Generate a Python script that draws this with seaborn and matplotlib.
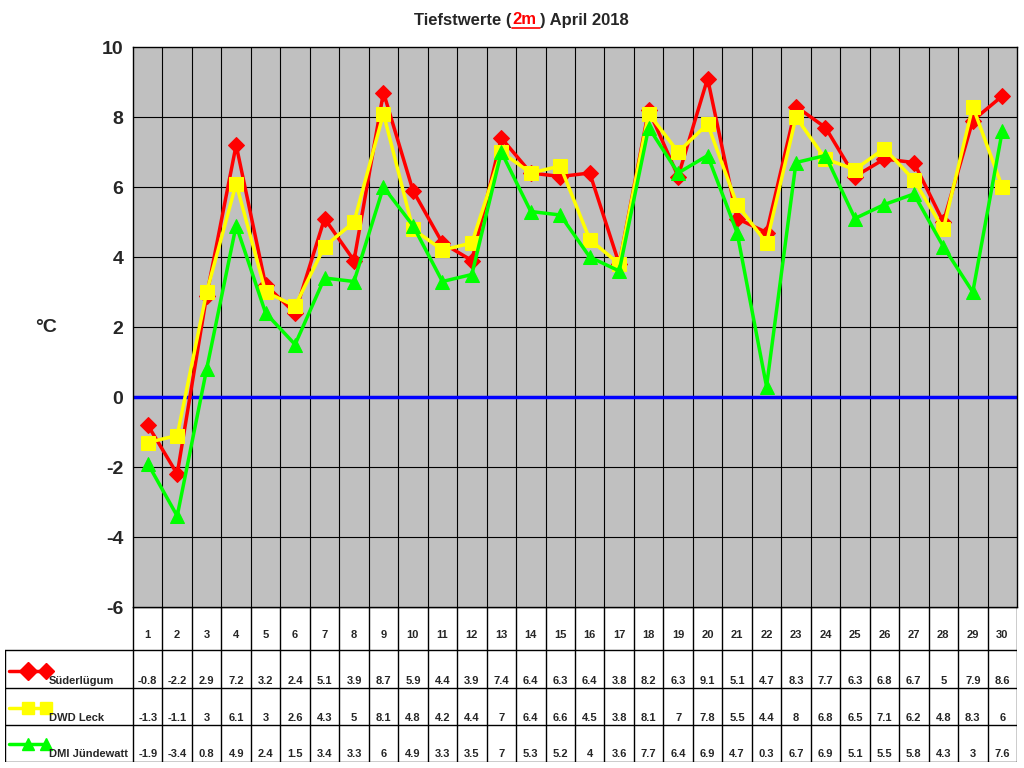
import matplotlib
matplotlib.use("Agg")
import matplotlib.pyplot as plt
import seaborn as sns
import numpy as np

days = list(range(1, 31))
sued = [-0.8,-2.2,2.9,7.2,3.2,2.4,5.1,3.9,8.7,5.9,4.4,3.9,7.4,6.4,6.3,6.4,3.8,8.2,6.3,9.1,5.1,4.7,8.3,7.7,6.3,6.8,6.7,5,7.9,8.6]
leck = [-1.3,-1.1,3,6.1,3,2.6,4.3,5,8.1,4.8,4.2,4.4,7,6.4,6.6,4.5,3.8,8.1,7,7.8,5.5,4.4,8,6.8,6.5,7.1,6.2,4.8,8.3,6]
dmi = [-1.9,-3.4,0.8,4.9,2.4,1.5,3.4,3.3,6,4.9,3.3,3.5,7,5.3,5.2,4,3.6,7.7,6.4,6.9,4.7,0.3,6.7,6.9,5.1,5.5,5.8,4.3,3,7.6]
names = ["Süderlügum", "DWD Leck", "DMI Jündewatt"]
colors = ["#FF0000", "#FFFF00", "#00FF00"]
markers = ["D", "s", "^"]
series = [sued, leck, dmi]

sns.set_style("white")
plt.rcParams['font.family'] = ['Liberation Sans', 'DejaVu Sans']
fig = plt.figure(figsize=(10.24, 7.68), dpi=100)
ax = fig.add_axes([133/1024, 1-607/768, 884/1024, 560/768])
ax.set_facecolor("#C0C0C0")
for xb in np.arange(1.5, 30.5, 1):
    ax.axvline(xb, color="black", lw=0.8, zorder=1)
for yv in range(-4, 10, 2):
    ax.axhline(yv, color="black", lw=0.8, zorder=1)
ax.axhline(0, color="#0000FF", lw=2.5, zorder=2)
for s, c, m, ms in zip(series, colors, markers, [8, 10, 10]):
    sns.lineplot(x=days, y=s, ax=ax, color=c, lw=2.5, marker=m, markersize=ms,
                 markeredgecolor=c, zorder=3)
ax.set_xlim(0.5, 30.5)
ax.set_ylim(-6, 10)
ax.set_yticks(range(-6, 11, 2))
ax.set_yticklabels([str(v) for v in range(-6, 11, 2)], fontsize=14, fontweight="bold")
ax.set_xticks([])
for sp in ax.spines.values():
    sp.set_color("black"); sp.set_linewidth(1)
ax.set_ylabel("°C", rotation=0, fontsize=14, fontweight="bold", labelpad=40, va="center")
fig.text(0.5, 1-20/768, "Tiefstwerte (", ha="right", va="center", fontsize=12, fontweight="bold")
fig.text(0.5, 1-20/768, "2m", ha="left", va="center", fontsize=12, fontweight="bold", color="red")
fig.text(0.5275, 1-20/768, ") April 2018", ha="left", va="center", fontsize=12, fontweight="bold")
fig.add_artist(plt.Line2D([0.5, 0.527], [1-28/768, 1-28/768], color="red", lw=1.2))

# table
tx = fig.add_axes([5/1024, 1-762/768, 1012/1024, 155/768])
tx.set_xlim(0.5 - 128/29.4667, 30.5)
tx.set_ylim(155, 0)
tx.axis("off")
x0 = 0.5 - 128/29.4667
rows = [0, 43, 81, 118, 155]
for yb in rows:
    xs = 0.5 if yb == 0 else x0
    tx.plot([xs, 30.5], [yb, yb], color="black", lw=1)
tx.plot([x0, x0], [43, 155], color="black", lw=1)
for xb in np.arange(0.5, 31.5, 1):
    tx.plot([xb, xb], [0, 155], color="black", lw=1)
for d in days:
    tx.text(d, 28, str(d), ha="center", va="center", fontsize=8, fontweight="bold")
rowy = [74, 111, 147]
for i, (s, c, m, nm) in enumerate(zip(series, colors, markers, names)):
    ly = rowy[i] - 10
    tx.plot([x0 + 0.15, x0 + 1.4], [ly, ly], color=c, lw=2.5, marker=m,
            markersize=8, markevery=[1], markeredgecolor=c)
    tx.plot([x0 + 0.775], [ly], color=c, marker=m, markersize=9, markeredgecolor=c)
    tx.text(x0 + 1.5, rowy[i], nm, ha="left", va="center", fontsize=8, fontweight="bold")
    for d, v in zip(days, s):
        tx.text(d, rowy[i], f"{v:g}", ha="center", va="center", fontsize=8, fontweight="bold")
fig.savefig("out.png", dpi=100)
